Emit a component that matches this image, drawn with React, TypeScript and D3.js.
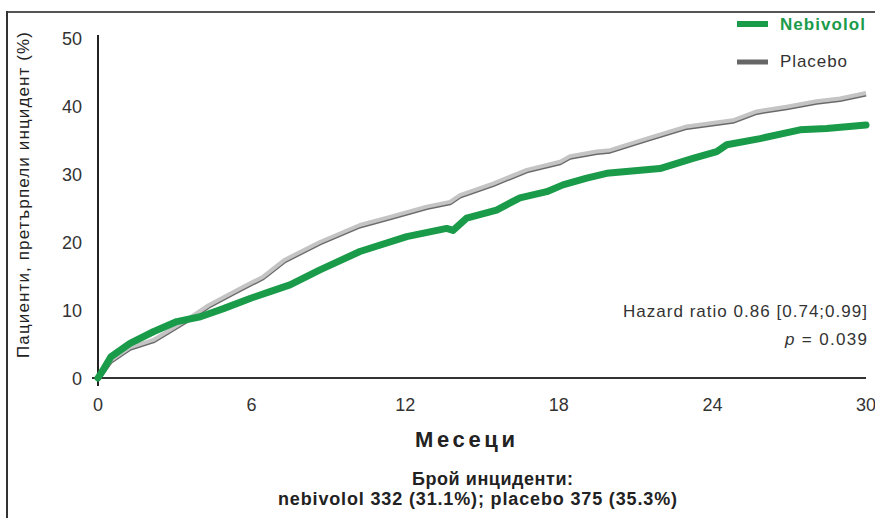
import React from "react";
import * as d3 from "d3";

const xTicks = [0, 6, 12, 18, 24, 30];
const yTicks = [0, 10, 20, 30, 40, 50];

const nebivolol: [number, number][] = [
  [0, 0], [0.25, 1.5], [0.5, 3.1], [1.25, 5.1], [2.16, 6.8], [3.08, 8.3], [4.0, 9.0],
  [4.9, 10.2], [5.94, 11.7], [6.72, 12.7], [7.5, 13.7], [8.67, 15.9], [10.23, 18.6],
  [12.06, 20.8], [13.62, 22.0], [13.87, 21.7], [14.4, 23.5], [15.57, 24.7], [16.48, 26.5],
  [17.53, 27.4], [18.16, 28.4], [19.09, 29.4], [19.87, 30.1], [21.95, 30.8], [23.24, 32.3],
  [24.17, 33.3], [24.56, 34.3], [25.86, 35.2], [27.42, 36.5], [28.46, 36.7], [30, 37.2],
];

const placebo: [number, number][] = [
  [0, 0], [0.5, 2.6], [1.25, 4.5], [2.16, 5.6], [3.4, 8.4], [4.32, 10.7], [5.42, 12.9],
  [6.45, 14.9], [7.3, 17.4], [8.67, 20.0], [10.23, 22.5], [11.41, 23.7], [12.84, 25.2],
  [13.75, 25.9], [14.14, 26.9], [15.43, 28.6], [16.75, 30.6], [18.05, 31.8], [18.44, 32.6],
  [19.48, 33.3], [20.0, 33.5], [21.43, 35.2], [23.0, 37.0], [24.8, 37.9], [25.73, 39.2],
  [26.9, 39.9], [28.07, 40.7], [28.98, 41.1], [30, 41.9],
];

const W = 875;
const H = 518;
const font = "'Liberation Sans', Arial, sans-serif";

export default function App() {
  const x = d3.scaleLinear().domain([0, 30]).range([98, 866]);
  const y = d3.scaleLinear().domain([0, 50]).range([378, 38]);
  const line = d3
    .line<[number, number]>()
    .x((d) => x(d[0]))
    .y((d) => y(d[1]))
    .curve(d3.curveLinear);

  return (
    <svg
      width={W}
      height={H}
      style={{ position: "absolute", left: 0, top: 0, background: "#fff" }}
      fontFamily={font}
    >
      <rect x={0} y={0} width={W} height={H} fill="#fff" />
      {/* frame */}
      <line x1={7} y1={12} x2={W} y2={12} stroke="#555" strokeWidth={2} />
      <line x1={7} y1={11} x2={7} y2={H} stroke="#333" strokeWidth={2} />

      {/* axes */}
      <line x1={98} y1={35} x2={98} y2={386} stroke="#222" strokeWidth={2} />
      <line x1={92} y1={378} x2={866} y2={378} stroke="#333" strokeWidth={2} />

      {yTicks.map((t) => (
        <text key={t} x={82} y={y(t) + 6.5} textAnchor="end" fontSize={18} fill="#333">
          {t}
        </text>
      ))}
      {xTicks.map((t) => (
        <text key={t} x={x(t)} y={411} textAnchor="middle" fontSize={18} fill="#333">
          {t}
        </text>
      ))}

      {/* placebo line: dark shadow + light gray */}
      <path d={line(placebo) || ""} fill="none" stroke="#6a6a6a" strokeWidth={4} transform="translate(0,1.5)" strokeLinejoin="round" />
      <path d={line(placebo) || ""} fill="none" stroke="#c4c4c4" strokeWidth={4} strokeLinejoin="round" />
      {/* nebivolol line */}
      <path d={line(nebivolol) || ""} fill="none" stroke="#1a9b4a" strokeWidth={7} strokeLinejoin="round" strokeLinecap="round" />

      {/* legend */}
      <line x1={737} y1={24} x2={768} y2={24} stroke="#1a9b4a" strokeWidth={6} />
      <text x={780} y={30} fontSize={17} fontWeight="bold" fill="#1a9b4a" textLength={85} lengthAdjust="spacing">Nebivolol</text>
      <line x1={737} y1={62} x2={768} y2={62} stroke="#666" strokeWidth={5} />
      <text x={780} y={67} fontSize={17} fill="#333" textLength={67} lengthAdjust="spacing">Placebo</text>

      {/* hazard ratio */}
      <text x={623} y={317} fontSize={17} fill="#333" textLength={244} lengthAdjust="spacing">
        Hazard ratio 0.86 [0.74;0.99]
      </text>
      <text x={785} y={345} fontSize={17} fill="#333" textLength={82} lengthAdjust="spacing">
        <tspan fontStyle="italic">p</tspan> = 0.039
      </text>

      {/* axis titles */}
      <text
        transform={`translate(29,195) rotate(-90)`}
        textAnchor="middle"
        fontSize={17}
        fill="#222"
        textLength={326}
        lengthAdjust="spacing"
      >
        Пациенти, претърпели инцидент (%)
      </text>
      <text x={415} y={447} fontSize={22} fontWeight="bold" fill="#222" textLength={100} lengthAdjust="spacing">
        Месеци
      </text>
      <text x={412} y={485} fontSize={18} fontWeight="bold" fill="#222" textLength={161} lengthAdjust="spacing">
        Брой инциденти:
      </text>
      <text x={278} y={505} fontSize={18} fontWeight="bold" fill="#222" textLength={399} lengthAdjust="spacing">
        nebivolol 332 (31.1%); placebo 375 (35.3%)
      </text>
    </svg>
  );
}
